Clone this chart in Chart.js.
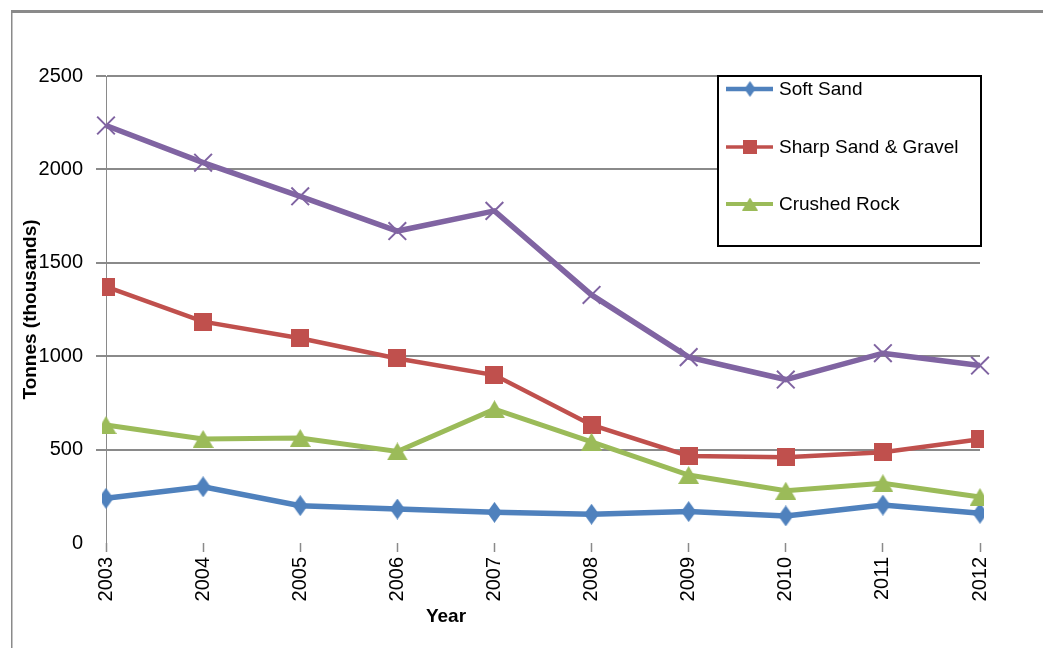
<!DOCTYPE html>
<html>
<head>
<meta charset="utf-8">
<script src="https://cdn.jsdelivr.net/npm/chart.js@4.4.1/dist/chart.umd.min.js"></script>
<style>
  html, body { margin: 0; padding: 0; background: #ffffff; }
  canvas { display: block; }
</style>
</head>
<body>
<canvas id="chart" width="1043" height="648"></canvas>
<script>
// Aggregate sales by year, thousands of tonnes
const years = ['2003', '2004', '2005', '2006', '2007', '2008', '2009', '2010', '2011', '2012'];
const softSand = [239, 301, 200, 182, 164, 154, 168, 145, 203, 159];
const sharpSandGravel = [1372, 1185, 1096, 988, 899, 632, 466, 459, 486, 555];
const crushedRock = [632, 557, 562, 490, 716, 542, 364, 280, 320, 246];
const totalTonnes = [2235, 2036, 1856, 1670, 1778, 1328, 995, 875, 1016, 950];
const yTicks = [0, 500, 1000, 1500, 2000, 2500];
const seriesNames = ['Soft Sand', 'Sharp Sand & Gravel', 'Crushed Rock', 'Total'];
const xAxisTitle = 'Year';
const yAxisTitle = 'Tonnes (thousands)';

const BLUE = '#4F81BD', RED = '#C0504D', GREEN = '#9BBB59', PURPLE = '#8064A2';
const GRID = '#8a8a8a';
const FONT = "'Liberation Sans', Arial, sans-serif";

// Marker sprites drawn as small canvases
function diamond(w, h, color) {
  const c = document.createElement('canvas');
  c.width = w; c.height = h;
  const g = c.getContext('2d');
  g.fillStyle = color;
  g.beginPath();
  g.moveTo(w / 2, 0); g.lineTo(w, h / 2); g.lineTo(w / 2, h); g.lineTo(0, h / 2);
  g.closePath(); g.fill();
  return c;
}
function triangle(w, h, color) {
  const c = document.createElement('canvas');
  c.width = w; c.height = h;
  const g = c.getContext('2d');
  g.fillStyle = color;
  g.beginPath();
  g.moveTo(w / 2, 0); g.lineTo(w, h); g.lineTo(0, h);
  g.closePath(); g.fill();
  return c;
}
function square(s, color) {
  const c = document.createElement('canvas');
  c.width = s; c.height = s;
  const g = c.getContext('2d');
  g.fillStyle = color;
  g.fillRect(0, 0, s, s);
  return c;
}

const diamondMark = diamond(15, 21, BLUE);
const triangleMark = triangle(21, 18, GREEN);
const squareMark = square(18, RED);

// Outer frame lines of the chart object
const framePlugin = {
  id: 'frame',
  beforeDraw(chart) {
    const ctx = chart.ctx;
    ctx.save();
    ctx.fillStyle = GRID;
    ctx.fillRect(11, 10, chart.width - 11, 3);
    ctx.fillRect(11, 10, 1.5, chart.height - 10);
    ctx.restore();
  }
};

// Boxed legend inside the plot, listing the three material series
const legendBoxPlugin = {
  id: 'legendBox',
  afterDraw(chart) {
    const ctx = chart.ctx;
    const box = { x: 718, y: 76, w: 263, h: 170 };
    ctx.save();
    ctx.fillStyle = '#ffffff';
    ctx.fillRect(box.x, box.y, box.w, box.h);
    ctx.strokeStyle = '#000000';
    ctx.lineWidth = 2;
    ctx.strokeRect(box.x, box.y, box.w, box.h);
    const marks = [diamond(11, 16, BLUE), square(14, RED), triangle(16, 13, GREEN)];
    const widths = [4.5, 3.5, 4];
    const colors = [BLUE, RED, GREEN];
    const rowY = [89, 147, 204];
    ctx.font = '19px ' + FONT;
    ctx.textBaseline = 'middle';
    ctx.textAlign = 'left';
    for (let i = 0; i < 3; i++) {
      const y = rowY[i];
      ctx.strokeStyle = colors[i];
      ctx.lineWidth = widths[i];
      ctx.beginPath();
      ctx.moveTo(726, y); ctx.lineTo(773, y);
      ctx.stroke();
      const m = marks[i];
      ctx.drawImage(m, 750 - m.width / 2, y - m.height / 2);
      ctx.fillStyle = '#000000';
      ctx.fillText(chart.data.datasets[i].label, 779, y + 1);
    }
    ctx.restore();
  }
};

// Horizontal axis title, placed under the year labels
const xTitlePlugin = {
  id: 'xTitle',
  afterDraw(chart) {
    const ctx = chart.ctx;
    ctx.save();
    ctx.font = 'bold 19px ' + FONT;
    ctx.fillStyle = '#000000';
    ctx.textAlign = 'center';
    ctx.textBaseline = 'middle';
    ctx.fillText(xAxisTitle, 446, 617);
    ctx.restore();
  }
};

const lineBase = { tension: 0, fill: false, pointBorderWidth: 0 };

new Chart(document.getElementById('chart'), {
  type: 'line',
  data: {
    labels: years,
    datasets: [
      Object.assign({}, lineBase, {
        label: seriesNames[0], data: softSand, borderColor: BLUE, backgroundColor: BLUE,
        borderWidth: 5.5, pointStyle: diamondMark, order: 4
      }),
      Object.assign({}, lineBase, {
        label: seriesNames[1], data: sharpSandGravel, borderColor: RED, backgroundColor: RED,
        borderWidth: 4.5, pointStyle: squareMark, order: 3
      }),
      Object.assign({}, lineBase, {
        label: seriesNames[2], data: crushedRock, borderColor: GREEN, backgroundColor: GREEN,
        borderWidth: 5, pointStyle: triangleMark, order: 2
      }),
      Object.assign({}, lineBase, {
        label: seriesNames[3], data: totalTonnes, borderColor: PURPLE, backgroundColor: PURPLE,
        borderWidth: 5.5, pointStyle: 'crossRot', pointRadius: 12.5, pointBorderWidth: 2, order: 1
      })
    ]
  },
  options: {
    responsive: false,
    animation: false,
    events: [],
    layout: { padding: { left: 10, top: 76, right: 63, bottom: 0 } },
    plugins: {
      legend: { display: false },
      tooltip: { enabled: false },
      title: { display: false }
    },
    scales: {
      x: {
        type: 'category',
        offset: false,
        afterFit(scale) { scale.height = 105; },
        border: { display: false },
        grid: {
          drawOnChartArea: false,
          drawTicks: true,
          tickLength: 9,
          tickColor: GRID,
          tickWidth: 1.5
        },
        ticks: {
          autoSkip: false,
          minRotation: 90,
          maxRotation: 90,
          padding: 5,
          color: '#000000',
          font: { family: FONT, size: 20 }
        }
      },
      y: {
        min: 0,
        max: 2500,
        afterFit(scale) { scale.width = 96; },
        afterBuildTicks(scale) { scale.ticks = yTicks.map(v => ({ value: v })); },
        border: { display: true, color: GRID, width: 1 },
        grid: {
          color: ctx => (ctx.tick && ctx.tick.value === 0) ? 'rgba(0,0,0,0)' : GRID,
          lineWidth: 2,
          tickLength: 10
        },
        ticks: {
          padding: 13,
          color: '#000000',
          font: { family: FONT, size: 20 },
          callback: value => String(value)
        },
        title: {
          display: true,
          text: yAxisTitle,
          color: '#000000',
          font: { family: FONT, size: 19, weight: 'bold' },
          padding: { top: 9, bottom: 0 }
        }
      }
    }
  },
  plugins: [framePlugin, legendBoxPlugin, xTitlePlugin]
});
</script>
</body>
</html>
